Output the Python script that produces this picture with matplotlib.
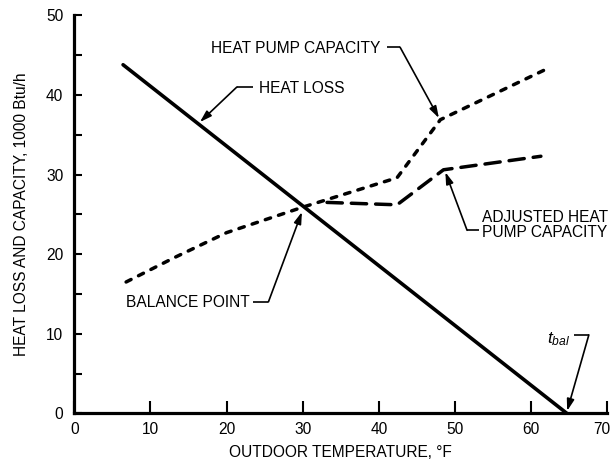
import matplotlib
matplotlib.use("Agg")
import matplotlib.pyplot as plt
from matplotlib.transforms import ScaledTranslation

plt.rcParams["font.family"] = ["Liberation Sans", "DejaVu Sans"]
plt.rcParams["mathtext.fontset"] = "custom"
plt.rcParams["mathtext.rm"] = "Liberation Sans"
plt.rcParams["mathtext.it"] = "Liberation Sans:italic"

# Building heat loss vs. outdoor temperature (straight line to the balance temperature)
loss_temp = [6.4, 64.7]
loss_btu = [43.8, 0.0]

# Heat pump capacity (1000 Btu/h)
hp_temp = [6.8, 13.0, 20.0, 30.0, 42.4, 48.1, 61.9]
hp_btu = [16.5, 19.5, 22.7, 25.9, 29.6, 36.9, 43.2]

# Adjusted heat pump capacity (defrost-corrected)
adj_temp = [33.2, 42.4, 48.5, 61.3]
adj_btu = [26.5, 26.2, 30.6, 32.3]

x_ticks = [0, 10, 20, 30, 40, 50, 60, 70]
y_major = [0, 10, 20, 30, 40, 50]
y_minor = [5, 15, 25, 35, 45]

FS = 11.2

fig = plt.figure(figsize=(6.12, 4.67), dpi=100)
ax = fig.add_axes([0.1215, 0.115, 0.8705, 0.852])

ax.plot(loss_temp, loss_btu, color="black", lw=2.6, solid_capstyle="round")
ax.plot(hp_temp, hp_btu, color="black", lw=2.5, linestyle=(0, (1.6, 2.4)),
        dash_capstyle="round")
ax.plot(adj_temp, adj_btu, color="black", lw=2.5, linestyle=(0, (4.4, 2.6)),
        dash_capstyle="round")

ax.set_xlim(0, 70)
ax.set_ylim(0, 50)
ax.set_xticks(x_ticks)
ax.set_yticks(y_major)
ax.set_yticks(y_minor, minor=True)
for s in ("top", "right"):
    ax.spines[s].set_visible(False)
for s in ("left", "bottom"):
    ax.spines[s].set_linewidth(2.3)
    ax.spines[s].set_capstyle("projecting")
ax.tick_params(axis="x", direction="in", length=8.5, width=1.5, pad=6, labelsize=FS)
ax.tick_params(axis="y", which="both", direction="in", length=6, width=1.5, pad=8,
               labelsize=FS)

# nudge the last x tick label inward so it stays inside the figure
last = ax.xaxis.get_major_ticks()[-1].label1
last.set_transform(last.get_transform() + ScaledTranslation(-0.055, 0, fig.dpi_scale_trans))

ax.set_xlabel("OUTDOOR TEMPERATURE, °F", fontsize=FS, labelpad=6)
ax.set_ylabel("HEAT LOSS AND CAPACITY, 1000 Btu/h", fontsize=FS, labelpad=12)

arrow = dict(arrowstyle="-|>,head_length=0.7,head_width=0.22", color="black",
             lw=1.2, shrinkA=0, shrinkB=0)
leader = dict(color="black", lw=1.2, solid_capstyle="butt")


def callout(text, text_xy, ha, elbow_from, elbow, tip, fontsize=FS, **kw):
    ax.text(*text_xy, text, ha=ha, va="baseline", fontsize=fontsize, **kw)
    ax.plot([elbow_from[0], elbow[0]], [elbow_from[1], elbow[1]], **leader)
    ax.annotate("", xy=tip, xytext=elbow, arrowprops=arrow)


callout("HEAT PUMP CAPACITY", (40.2, 45.3), "right",
        (41.1, 46.0), (42.8, 46.0), (47.9, 37.1))
callout("HEAT LOSS", (24.2, 40.2), "left",
        (23.5, 41.0), (21.35, 41.0), (16.5, 36.6))
callout("BALANCE POINT", (23.1, 13.3), "right",
        (23.5, 14.0), (25.5, 14.0), (29.9, 25.3))
callout("ADJUSTED HEAT\nPUMP CAPACITY", (53.6, 22.1), "left",
        (53.2, 23.0), (51.6, 23.0), (48.75, 30.3), linespacing=1.0)
callout(r"$t_{bal}$", (62.1, 8.8), "left",
        (65.6, 9.85), (67.6, 9.85), (64.75, 0.3), fontsize=12.5)

fig.savefig("out.png", dpi=100)
